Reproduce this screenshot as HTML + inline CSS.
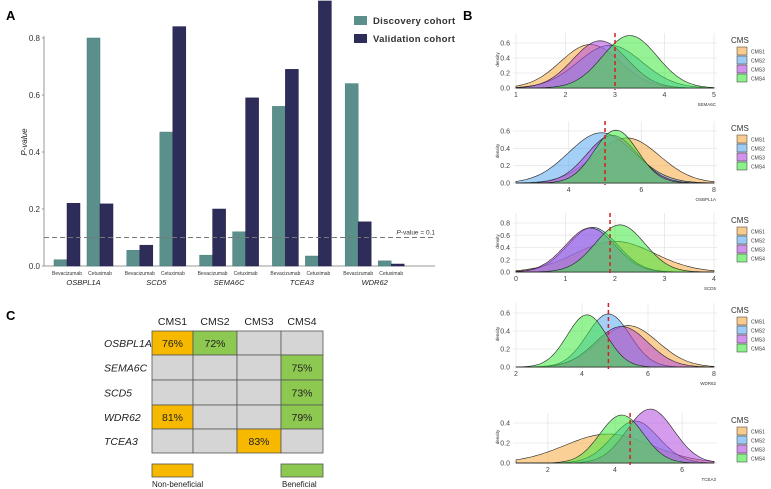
<!DOCTYPE html>
<html><head><meta charset="utf-8"><style>
body{margin:0;background:#fff;width:771px;height:489px;overflow:hidden;font-family:"Liberation Sans",Arial,sans-serif}
svg{display:block}
</style></head><body>
<svg id="fig" width="771" height="489" viewBox="0 0 771 489" xmlns="http://www.w3.org/2000/svg" font-family="Liberation Sans, Arial, sans-serif">
<text x="6" y="20" font-size="13" font-weight="bold">A</text>
<text x="463" y="20" font-size="13" font-weight="bold">B</text>
<text x="6" y="320" font-size="13" font-weight="bold">C</text>
<g id="panelA"></g>
<g id="panelB"></g>
<g id="panelC"></g>
</svg>
<script>
// ---- Panel A data ----
const genes = ["OSBPL1A","SCD5","SEMA6C","TCEA3","WDR62"];
const drugs = ["Bevacizumab","Cetuximab"];
const discoveryVals = [[0.022,0.80],[0.055,0.47],[0.038,0.12],[0.56,0.035],[0.64,0.018]];
const validationVals = [[0.22,0.218],[0.073,0.84],[0.20,0.59],[0.69,0.93],[0.155,0.007]];
const yTicksA = [0.0,0.2,0.4,0.6,0.8];
const thresholdA = 0.1;

// ---- Panel B data ----
const cmsNames = ["CMS1","CMS2","CMS3","CMS4"];
const densGenes = ["SEMA6C","OSBPL1A","SCD5","WDR62","TCEA3"];
const densMeans = [[2.5,2.9,2.7,3.3],[5.6,4.9,5.2,5.3],[2.0,1.55,1.5,2.1],[5.4,4.8,5.2,4.15],[3.8,4.6,5.05,4.2]];
const densSds = [[0.6,0.65,0.55,0.55],[0.9,0.9,0.7,0.6],[0.8,0.5,0.5,0.5],[0.9,0.65,0.8,0.6],[1.3,0.7,0.7,0.65]];
const densPeaks = [[0.58,0.57,0.63,0.70],[0.52,0.58,0.55,0.61],[0.50,0.73,0.72,0.77],[0.46,0.59,0.45,0.58],[0.29,0.42,0.54,0.48]];
const cutoffs = [3.0,5.0,1.9,4.8,4.45];
const xRanges = [[1,5],[2.55,8],[0,4],[2,8],[1.05,6.95]];
const xTicksB = [[1,2,3,4,5],[4,6,8],[0,1,2,3,4],[2,4,6,8],[2,4,6]];
const yTicksB = [[0,0.2,0.4,0.6],[0,0.2,0.4,0.6],[0,0.2,0.4,0.6,0.8],[0,0.2,0.4,0.6],[0,0.2,0.4]];

// ---- Panel C data ----
const cmsCols = ["CMS1","CMS2","CMS3","CMS4"];
const tableGenes = ["OSBPL1A","SEMA6C","SCD5","WDR62","TCEA3"];
const tableValues = [["76%","72%","",""],["","","","75%"],["","","","73%"],["81%","","","79%"],["","","83%",""]];
const tableKinds = [["n","b","",""],["","","","b"],["","","","b"],["n","","","b"],["","","n",""]];

const NS="http://www.w3.org/2000/svg";
function mk(parent,tag,attrs,text){const e=document.createElementNS(NS,tag);for(const k in attrs)e.setAttribute(k,attrs[k]);if(text!==undefined)e.textContent=text;parent.appendChild(e);return e;}

// ===== Panel A =====
(function(){
const g=document.getElementById('panelA');
const y0=266, yTop=38, x0=44, x1=435;
const yA=v=>y0-(v/0.8)*(y0-yTop);
const geneX=i=>83.5+i*72.8;
const bw=13;
mk(g,'line',{x1:x0,y1:y0,x2:x1,y2:y0,stroke:'#999','stroke-width':1});
mk(g,'line',{x1:x0,y1:yTop-2,x2:x0,y2:y0,stroke:'#999','stroke-width':1});
yTicksA.forEach(t=>{
 const tl=mk(g,'text',{x:x0-4,y:yA(t)+3,'font-size':8,'text-anchor':'end',fill:'#333'},t.toFixed(1));
 
 
 mk(g,'line',{x1:x0-2,y1:yA(t),x2:x0,y2:yA(t),stroke:'#999'});
});
const yl=mk(g,'text',{x:0,y:0,'font-size':8,'font-style':'italic',transform:`translate(27,142) rotate(-90)`,'text-anchor':'middle',fill:'#222'},'P-value');


genes.forEach((gn,i)=>{
 drugs.forEach((d,j)=>{
  const cx=geneX(i)+(j===0?-16.5:16.5);
  const dv=discoveryVals[i][j], vv=validationVals[i][j];
  const r1=mk(g,'rect',{x:cx-bw,y:yA(dv),width:bw,height:y0-yA(dv),fill:'#5b8f8b',stroke:'#4a7c78','stroke-width':0.5});
  
  
  const r2=mk(g,'rect',{x:cx,y:yA(vv),width:bw,height:y0-yA(vv),fill:'#2e2c58',stroke:'#23214a','stroke-width':0.5});
  
  
  const dl=mk(g,'text',{x:cx,y:275,'font-size':5,'text-anchor':'middle',fill:'#333'},d);
  
  
 });
 const gl=mk(g,'text',{x:geneX(i),y:285,'font-size':7.5,'font-style':'italic','text-anchor':'middle',fill:'#222'},gn);
 
 
});
const th=mk(g,'line',{x1:x0,y1:yA(thresholdA),x2:433,y2:yA(thresholdA),stroke:'#777','stroke-width':1,'stroke-dasharray':'5,3'});


const tt=mk(g,'text',{x:435,y:yA(thresholdA)-3,'font-size':6.5,'text-anchor':'end',fill:'#333'},'');


mk(tt,'tspan',{'font-style':'italic'},'P');
mk(tt,'tspan',{},'-value = 0.1');
const legend=[['Discovery cohort','#5b8f8b',16],['Validation cohort','#2e2c58',34]];
legend.forEach(([t,c,y])=>{
 const lg=mk(g,'g',{});
 
 
 mk(lg,'rect',{x:354,y:y,width:13,height:9,fill:c});
 mk(lg,'text',{x:373,y:y+8,'font-size':9.5,'font-weight':'bold',fill:'#333','letter-spacing':'0.3'},t);
});
})();

// ===== Panel B =====
(function(){
const g=document.getElementById('panelB');
const fills=['#f5a940','#5aa8f0','#b24be0','#3ee83e'];
const boxes=[{y0:88,yTopVal:0.6,yTopPx:43,bottom:100},{y0:183,yTopVal:0.6,yTopPx:131,bottom:196},{y0:272,yTopVal:0.8,yTopPx:223,bottom:285},{y0:367,yTopVal:0.6,yTopPx:313,bottom:380},{y0:463,yTopVal:0.4,yTopPx:423,bottom:476}];
const xL=516, xR=714;
densGenes.forEach((gn,p)=>{
 const b=boxes[p];
 const pg=mk(g,'g',{});
 
 
 const [a,z]=xRanges[p];
 const xs=v=>xL+(v-a)/(z-a)*(xR-xL);
 const ys=v=>b.y0-v/b.yTopVal*(b.y0-b.yTopPx);
 const maxY=Math.max(...yTicksB[p]);
 const topGrid=b.yTopPx-10;
 // grid
 yTicksB[p].forEach(t=>{mk(pg,'line',{x1:xL-3,y1:ys(t),x2:xR+3,y2:ys(t),stroke:'#e6e6e6','stroke-width':0.8});
  const yl=mk(pg,'text',{x:xL-6,y:ys(t)+2.5,'font-size':7,'text-anchor':'end',fill:'#444'},t===0?'0.0':t.toFixed(1));
  
  
 });
 xTicksB[p].forEach(t=>{mk(pg,'line',{x1:xs(t),y1:topGrid,x2:xs(t),y2:b.y0+2,stroke:'#e6e6e6','stroke-width':0.8});
  const xl=mk(pg,'text',{x:xs(t),y:b.y0+9,'font-size':7,'text-anchor':'middle',fill:'#444'},String(t));
  
  
 });
 const dl=mk(pg,'text',{x:0,y:0,'font-size':4.5,fill:'#333',transform:`translate(${xL-17},${(b.yTopPx+b.y0)/2-6}) rotate(-90)`,'text-anchor':'middle'},'density');
 
 
 const xt=mk(pg,'text',{x:xR+2,y:b.y0+18,'font-size':4.5,'text-anchor':'end',fill:'#333'},gn);
 
 
 cmsNames.forEach((c,k)=>{
  const m=densMeans[p][k], s=densSds[p][k], pk=densPeaks[p][k];
  let d=`M${xs(a)},${ys(0)}`;
  for(let i=0;i<=80;i++){const v=a+(z-a)*i/80;const dv=pk*Math.exp(-0.5*((v-m)/s)**2);d+=` L${xs(v).toFixed(1)},${ys(dv).toFixed(1)}`;}
  d+=` L${xs(z)},${ys(0)} Z`;
  const path=mk(pg,'path',{d:d,fill:fills[k],'fill-opacity':0.55,stroke:'#222','stroke-width':0.6});
  
  
 });
 const cl=mk(pg,'line',{x1:xs(cutoffs[p]),y1:topGrid,x2:xs(cutoffs[p]),y2:b.y0+2,stroke:'#d42020','stroke-width':1.5,'stroke-dasharray':'4,3'});
 
 
 // legend
 const lt=b.yTopPx-2;
 const lg=mk(pg,'g',{});
 
 
 mk(lg,'text',{x:731,y:lt+2,'font-size':8,fill:'#333'},'CMS');
 cmsNames.forEach((c,k)=>{
  mk(lg,'rect',{x:737,y:lt+6+k*9,width:10,height:8,fill:fills[k],'fill-opacity':0.6,stroke:'#333','stroke-width':0.5});
  mk(lg,'text',{x:751,y:lt+12.5+k*9,'font-size':5,fill:'#333'},c);
 });
});
})();

// ===== Panel C =====
(function(){
const g=document.getElementById('panelC');
const colX=[152,193,237,281,323];
const rowY=[331,355,380,405,429,453];
const col={n:'#f7b800',b:'#8dc850','':'#d5d5d5'};
cmsCols.forEach((c,j)=>{
 const h=mk(g,'text',{x:(colX[j]+colX[j+1])/2,y:325,'font-size':10.5,'text-anchor':'middle',fill:'#222'},c);
 
 
});
tableGenes.forEach((gn,i)=>{
 const rl=mk(g,'text',{x:104,y:(rowY[i]+rowY[i+1])/2+4,'font-size':10.5,'font-style':'italic',fill:'#222'},gn);
 
 
 cmsCols.forEach((c,j)=>{
  const cell=mk(g,'rect',{x:colX[j],y:rowY[i],width:colX[j+1]-colX[j],height:rowY[i+1]-rowY[i],fill:col[tableKinds[i][j]],stroke:'#555','stroke-width':0.8});
  
  
  if(tableValues[i][j]){
   const t=mk(g,'text',{x:(colX[j]+colX[j+1])/2,y:(rowY[i]+rowY[i+1])/2+4,'font-size':10.5,'text-anchor':'middle',fill:'#222'},tableValues[i][j]);
   
   
  }
 });
});
const l1=mk(g,'rect',{x:152,y:464,width:41,height:13,fill:'#f7b800',stroke:'#555','stroke-width':0.8});


const l2=mk(g,'rect',{x:281,y:464,width:42,height:13,fill:'#8dc850',stroke:'#555','stroke-width':0.8});


const t1=mk(g,'text',{x:152,y:487,'font-size':8,fill:'#222'},'Non-beneficial');


const t2=mk(g,'text',{x:282,y:487,'font-size':8,fill:'#222'},'Beneficial');


})();
</script>
</body></html>
